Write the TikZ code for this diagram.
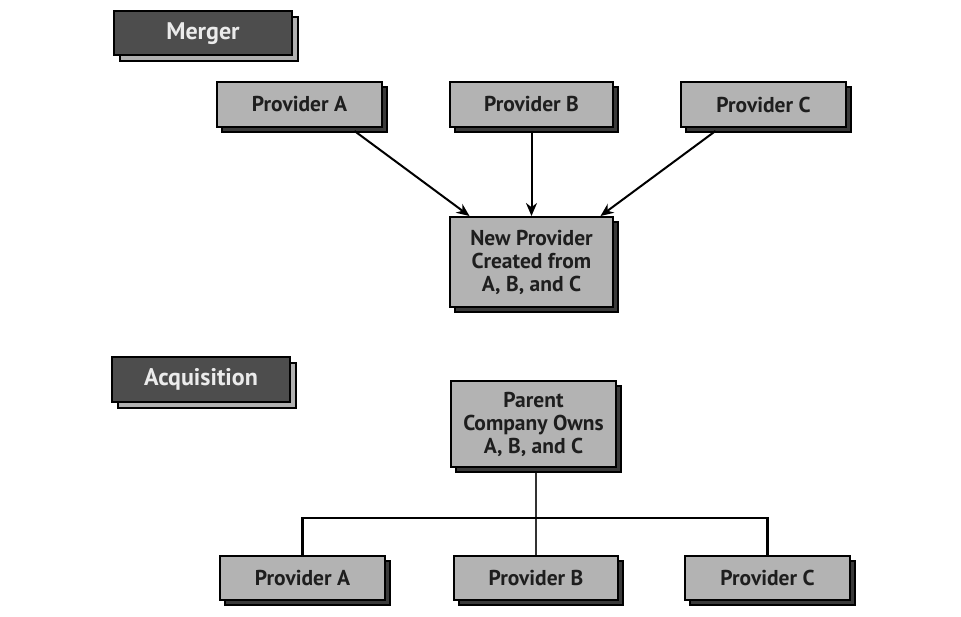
\documentclass[tikz,border=0pt]{standalone}
\usepackage{fontspec}
\setmainfont{PT Sans}
\usetikzlibrary{shadows,arrows.meta}
\definecolor{boxgray}{HTML}{B3B3B3}
\definecolor{labelgray}{HTML}{4D4D4D}
\definecolor{shadowdark}{HTML}{3A3A3A}
\definecolor{shadowlight}{HTML}{B0B0B0}
\definecolor{txt}{HTML}{1E1E1E}
\tikzset{
  provbox/.style={draw=black, line width=2pt, fill=boxgray, inner sep=0pt,
    text=txt, font=\bfseries\fontsize{21.5}{23}\selectfont, align=center,
    copy shadow={shadow xshift=5pt, shadow yshift=-5pt, fill=shadowdark, draw=black, line width=1.5pt}},
  labelbox/.style={draw=black, line width=2pt, fill=labelgray, inner sep=0pt,
    text=white!92!black, font=\bfseries\fontsize{24}{28}\selectfont,
    minimum width=178pt, minimum height=44pt,
    copy shadow={shadow xshift=6pt, shadow yshift=-6pt, fill=shadowlight, draw=black, line width=2pt}},
  arr/.style={line width=2pt, -{Stealth[length=13pt,width=11pt]}},
  tree/.style={line width=2.2pt},
  stem/.style={line width=1.5pt, draw=black!80}
}
\begin{document}
\begin{tikzpicture}[x=1pt,y=-1pt]
\useasboundingbox[fill=white] (0,0) rectangle (961,617);
% Merger section
\node[labelbox] (merger) at (203,33.5) {Merger};
\node[provbox, minimum width=165pt, minimum height=45pt] (pa) at (299.5,104.5) {Provider A};
\node[provbox, minimum width=163pt, minimum height=45pt] (pb) at (531.5,104.5) {Provider B};
\node[provbox, minimum width=165pt, minimum height=45pt] (pc) at (763.5,104.5) {Provider C};
\node[provbox, minimum width=163pt, minimum height=90pt] (np) at (531.5,262) {New Provider\\Created from\\A, B, and C};
\draw[arr] ([xshift=55pt,yshift=-3pt]pa.south) -- ([xshift=-62pt]np.north);
\draw[arr] ([yshift=-3pt]pb.south) -- (np.north);
\draw[arr] ([xshift=-48pt,yshift=-3pt]pc.south) -- ([xshift=69pt]np.north);
% Acquisition section
\node[labelbox] (acq) at (201,379.5) {Acquisition};
\node[provbox, minimum width=165pt, minimum height=86pt] (par) at (533.5,424) {Parent\\Company Owns\\A, B, and C};
\node[provbox, minimum width=165pt, minimum height=44pt] (qa) at (302.5,578) {Provider A};
\node[provbox, minimum width=164pt, minimum height=44pt] (qb) at (536,578) {Provider B};
\node[provbox, minimum width=165pt, minimum height=44pt] (qc) at (767.5,578) {Provider C};
\coordinate (bar) at (536,518);
\draw[stem] ([yshift=-5pt]par.south -| bar) -- (qb.north);
\draw[tree] (qa.north) |- (bar) -| (qc.north);
\end{tikzpicture}
\end{document}
